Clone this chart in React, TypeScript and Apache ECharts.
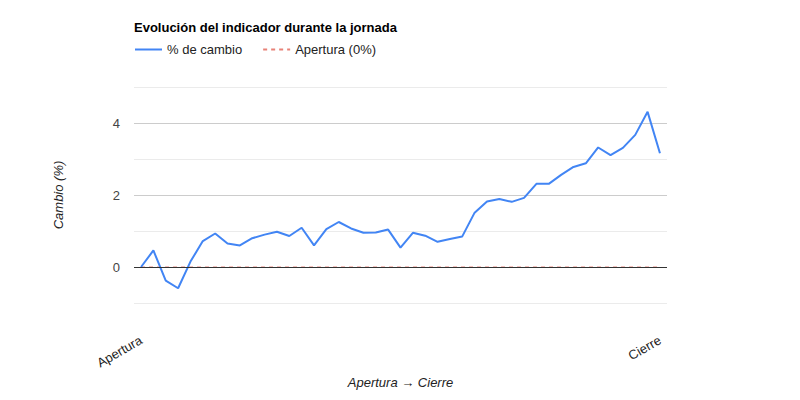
import React, { useEffect, useRef } from "react";
import * as echarts from "echarts";

const pctChange = [
  0, 0.46, -0.38, -0.59, 0.15, 0.72, 0.93, 0.65, 0.6, 0.8, 0.9, 0.98, 0.86, 1.09, 0.6,
  1.05, 1.25, 1.07, 0.95, 0.96, 1.04, 0.54, 0.95, 0.87, 0.7, 0.78, 0.85, 1.51, 1.82,
  1.89, 1.81, 1.92, 2.31, 2.31, 2.56, 2.78, 2.88, 3.32, 3.11, 3.31, 3.67, 4.31, 3.16,
];
const openingLevel = pctChange.map(() => 0);
const xTickValues = [0, pctChange.length - 1];
const xTickLabels = ["Apertura", "Cierre"];
const yTickLabels = ["0", "2", "4"];

const FONT = "Arial, 'Liberation Sans', sans-serif";

export default function App() {
  const ref = useRef<HTMLDivElement>(null);
  useEffect(() => {
    document.body.style.margin = "0";
    if (!ref.current) return;
    const chart = echarts.init(ref.current, null, { renderer: "svg" });
    const n = pctChange.length;
    chart.setOption({
      animation: false,
      textStyle: { fontFamily: FONT },
      title: {
        text: "Evolución del indicador durante la jornada",
        left: 134,
        top: 21,
        padding: 0,
        textStyle: { fontSize: 13, fontWeight: "bold", color: "#000", fontFamily: FONT },
      },
      legend: {
        left: 134,
        top: 43,
        padding: 0,
        itemWidth: 27,
        itemHeight: 14,
        itemGap: 20,
        itemStyle: { opacity: 0 },
        textStyle: { fontSize: 13, color: "#222", fontFamily: FONT },
        data: ["% de cambio", "Apertura (0%)"],
      },
      grid: { left: 134, right: 133, top: 87, bottom: 97, containLabel: false },
      xAxis: {
        type: "value",
        min: -0.57,
        max: n - 1 + 0.57,
        name: "Apertura → Cierre",
        nameLocation: "middle",
        nameGap: 73,
        nameTextStyle: { fontStyle: "italic", fontSize: 13, color: "#222", fontFamily: FONT },
        axisLine: { show: false },
        axisTick: { show: false },
        splitLine: { show: false },
        axisLabel: {
          customValues: xTickValues,
          rotate: 30,
          margin: 36,
          fontSize: 13,
          color: "#222",
          fontFamily: FONT,
          formatter: (v: number) => {
            const idx = xTickValues.indexOf(Math.round(v));
            return idx >= 0 ? xTickLabels[idx] : "";
          },
        },
      },
      yAxis: {
        type: "value",
        min: -1,
        max: 5,
        interval: 1,
        name: "Cambio (%)",
        nameLocation: "middle",
        nameGap: 69,
        nameTextStyle: { fontStyle: "italic", fontSize: 13, color: "#222", fontFamily: FONT },
        axisLine: { show: false },
        axisTick: { show: false },
        axisLabel: {
          margin: 14,
          fontSize: 13,
          color: "#444",
          fontFamily: FONT,
          formatter: (v: number) => (yTickLabels.includes(String(v)) ? String(v) : ""),
        },
        splitLine: { lineStyle: { color: ["#ebebeb", "#cccccc"], width: 1 } },
      },
      series: [
        {
          name: "Apertura (0%)",
          type: "line",
          data: openingLevel.map((v, i) => [i, v]),
          symbol: "none",
          lineStyle: { color: "#e0584b", width: 1, type: [4, 4], opacity: 0.75 },
          itemStyle: { color: "#e0584b" },
          markLine: {
            silent: true,
            symbol: "none",
            label: { show: false },
            lineStyle: { color: "#333", width: 1, type: "solid" },
            data: [{ yAxis: 0 }],
          },
          z: 2,
        },
        {
          name: "% de cambio",
          type: "line",
          data: pctChange.map((v, i) => [i, v]),
          symbol: "none",
          lineStyle: { color: "#4285f4", width: 2 },
          itemStyle: { color: "#4285f4" },
          z: 3,
        },
      ],
    });
    return () => chart.dispose();
  }, []);
  return <div ref={ref} style={{ width: 800, height: 400 }} />;
}
